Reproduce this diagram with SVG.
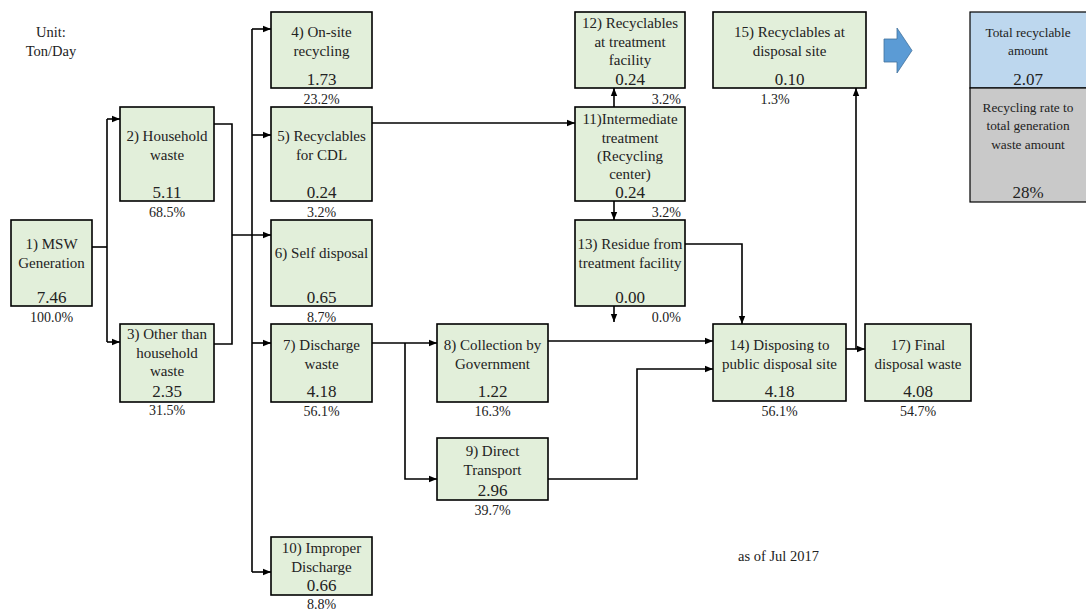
<svg xmlns="http://www.w3.org/2000/svg" width="1086" height="610" viewBox="0 0 1086 610">
  <defs>
    <marker id="arr" viewBox="0 0 8 8" refX="8" refY="4" markerWidth="8" markerHeight="8" markerUnits="userSpaceOnUse" orient="auto">
      <path d="M0,0.8 L8,4 L0,7.2 Z" fill="#000"/>
    </marker>
    <style>
      .box { fill: #E2EFDA; stroke: #000; stroke-width: 1.6; }
      .lbl { font-family: "Liberation Serif", "Times New Roman", serif; font-size: 15px; fill: #222; text-anchor: middle; }
      .val { font-family: "Liberation Serif", "Times New Roman", serif; font-size: 17px; fill: #222; text-anchor: middle; }
      .pct { font-family: "Liberation Serif", "Times New Roman", serif; font-size: 14px; fill: #222; text-anchor: middle; }
      .pctr { font-family: "Liberation Serif", "Times New Roman", serif; font-size: 14px; fill: #222; text-anchor: end; }
      .tbl { font-family: "Liberation Serif", "Times New Roman", serif; font-size: 13.3px; fill: #222; text-anchor: middle; }
      .note { font-family: "Liberation Serif", "Times New Roman", serif; font-size: 14.5px; fill: #222; }
      .conn path { fill: none; stroke: #000; stroke-width: 1.6; }
    </style>
  </defs>
  <rect width="1086" height="610" fill="#fff"/>

  <!-- unit note -->
  <text class="note" x="51" y="37" text-anchor="middle">Unit:</text>
  <text class="note" x="51" y="56" text-anchor="middle">Ton/Day</text>

  <!-- connectors -->
  <g id="connectors" class="conn">
    <path d="M92,247 H107"/>
    <path d="M107,119 V342"/>
    <path d="M107,119 H120" marker-end="url(#arr)"/>
    <path d="M107,342 H120" marker-end="url(#arr)"/>
    <path d="M214,124 H232 V344 H214"/>
    <path d="M232,235 H271" marker-end="url(#arr)"/>
    <path d="M252,29 V572"/>
    <path d="M252,29 H271" marker-end="url(#arr)"/>
    <path d="M252,135 H271" marker-end="url(#arr)"/>
    <path d="M252,343 H271" marker-end="url(#arr)"/>
    <path d="M252,572 H271" marker-end="url(#arr)"/>
    <path d="M372,123 H575" marker-end="url(#arr)"/>
    <path d="M372,343 H437" marker-end="url(#arr)"/>
    <path d="M405,343 V479 H437" marker-end="url(#arr)"/>
    <path d="M548,341 H713" marker-end="url(#arr)"/>
    <path d="M548,479 H637 V369 H713" marker-end="url(#arr)"/>
    <path d="M685,244 H742 V324" marker-end="url(#arr)"/>
    <path d="M614,107 V88" marker-end="url(#arr)"/>
    <path d="M614,201 V220" marker-end="url(#arr)"/>
    <path d="M614,306 V322" marker-end="url(#arr)"/>
    <path d="M846,349 H865" marker-end="url(#arr)"/>
    <path d="M856,349 V88" marker-end="url(#arr)"/>
  </g>

  <g id="n1">
    <rect class="box" x="11" y="220" width="81" height="86"/>
    <text class="lbl" x="51.5" y="249">1) MSW</text>
    <text class="lbl" x="51.5" y="267.5">Generation</text>
    <text class="val" x="51.5" y="303">7.46</text>
    <text class="pct" x="51.5" y="322">100.0%</text>
  </g>
  <g id="n2">
    <rect class="box" x="120" y="107" width="94" height="94"/>
    <text class="lbl" x="167" y="141">2) Household</text>
    <text class="lbl" x="167" y="159.5">waste</text>
    <text class="val" x="167" y="198">5.11</text>
    <text class="pct" x="167" y="216.5">68.5%</text>
  </g>
  <g id="n3">
    <rect class="box" x="120" y="324" width="94" height="78"/>
    <text class="lbl" x="167" y="339">3) Other than</text>
    <text class="lbl" x="167" y="357.5">household</text>
    <text class="lbl" x="167" y="376">waste</text>
    <text class="val" x="167" y="396.5">2.35</text>
    <text class="pct" x="167" y="415">31.5%</text>
  </g>
  <g id="n4">
    <rect class="box" x="271" y="12" width="101" height="76"/>
    <text class="lbl" x="321.5" y="37">4) On-site</text>
    <text class="lbl" x="321.5" y="55.5">recycling</text>
    <text class="val" x="321.5" y="84.5">1.73</text>
    <text class="pct" x="321.5" y="103.5">23.2%</text>
  </g>
  <g id="n5">
    <rect class="box" x="271" y="107" width="101" height="94"/>
    <text class="lbl" x="321.5" y="141">5) Recyclables</text>
    <text class="lbl" x="321.5" y="159.5">for CDL</text>
    <text class="val" x="321.5" y="198">0.24</text>
    <text class="pct" x="321.5" y="216.5">3.2%</text>
  </g>
  <g id="n6">
    <rect class="box" x="271" y="220" width="101" height="86"/>
    <text class="lbl" x="321.5" y="258">6) Self disposal</text>
    <text class="val" x="321.5" y="302.5">0.65</text>
    <text class="pct" x="321.5" y="321.5">8.7%</text>
  </g>
  <g id="n7">
    <rect class="box" x="271" y="324" width="101" height="78"/>
    <text class="lbl" x="321.5" y="350">7) Discharge</text>
    <text class="lbl" x="321.5" y="368.5">waste</text>
    <text class="val" x="321.5" y="397">4.18</text>
    <text class="pct" x="321.5" y="416">56.1%</text>
  </g>
  <g id="n8">
    <rect class="box" x="437" y="324" width="111" height="78"/>
    <text class="lbl" x="492.5" y="350">8) Collection by</text>
    <text class="lbl" x="492.5" y="368.5">Government</text>
    <text class="val" x="492.5" y="397">1.22</text>
    <text class="pct" x="492.5" y="416">16.3%</text>
  </g>
  <g id="n9">
    <rect class="box" x="437" y="438" width="111" height="62"/>
    <text class="lbl" x="492.5" y="456">9) Direct</text>
    <text class="lbl" x="492.5" y="474.5">Transport</text>
    <text class="val" x="492.5" y="496">2.96</text>
    <text class="pct" x="492.5" y="514.5">39.7%</text>
  </g>
  <g id="n10">
    <rect class="box" x="271" y="537" width="101" height="58"/>
    <text class="lbl" x="321.5" y="553">10) Improper</text>
    <text class="lbl" x="321.5" y="571.5">Discharge</text>
    <text class="val" x="321.5" y="590.5">0.66</text>
    <text class="pct" x="321.5" y="609">8.8%</text>
  </g>
  <g id="n11">
    <rect class="box" x="575" y="107" width="110" height="94"/>
    <text class="lbl" x="630" y="124">11)Intermediate</text>
    <text class="lbl" x="630" y="142.5">treatment</text>
    <text class="lbl" x="630" y="161">(Recycling</text>
    <text class="lbl" x="630" y="179">center)</text>
    <text class="val" x="630" y="198">0.24</text>
    <text class="pctr" x="681" y="216.5">3.2%</text>
  </g>
  <g id="n12">
    <rect class="box" x="575" y="12" width="110" height="76"/>
    <text class="lbl" x="630" y="28">12) Recyclables</text>
    <text class="lbl" x="630" y="46.5">at treatment</text>
    <text class="lbl" x="630" y="65">facility</text>
    <text class="val" x="630" y="84.5">0.24</text>
    <text class="pctr" x="681" y="103.5">3.2%</text>
  </g>
  <g id="n13">
    <rect class="box" x="575" y="220" width="110" height="86"/>
    <text class="lbl" x="630" y="249">13) Residue from</text>
    <text class="lbl" x="630" y="267.5">treatment facility</text>
    <text class="val" x="630" y="302.5">0.00</text>
    <text class="pctr" x="681" y="321.5">0.0%</text>
  </g>
  <g id="n14">
    <rect class="box" x="713" y="324" width="133" height="77"/>
    <text class="lbl" x="779.5" y="350">14) Disposing to</text>
    <text class="lbl" x="779.5" y="368.5">public disposal site</text>
    <text class="val" x="779.5" y="397">4.18</text>
    <text class="pct" x="779.5" y="415.5">56.1%</text>
  </g>
  <g id="n15">
    <rect class="box" x="713" y="12" width="153" height="76"/>
    <text class="lbl" x="789.5" y="37">15) Recyclables at</text>
    <text class="lbl" x="789.5" y="55.5">disposal site</text>
    <text class="val" x="789.5" y="84.5">0.10</text>
    <text class="pct" x="775" y="103.5">1.3%</text>
  </g>
  <g id="n17">
    <rect class="box" x="865" y="324" width="106" height="77"/>
    <text class="lbl" x="918" y="350">17) Final</text>
    <text class="lbl" x="918" y="368.5">disposal waste</text>
    <text class="val" x="918" y="397">4.08</text>
    <text class="pct" x="918" y="416">54.7%</text>
  </g>

  <!-- block arrow toward the summary table -->
  <g id="summary-arrow">
    <polygon points="884,39 897,39 897,28 912,50.5 897,73 897,62 884,62" fill="#5B9BD5" stroke="#41719C" stroke-width="0.8"/>
  </g>

  <!-- summary table -->
  <g id="summary">
    <rect x="970" y="12" width="118" height="76" fill="#BDD7EE" stroke="#000" stroke-width="1.2"/>
    <rect x="970" y="88" width="118" height="114" fill="#C9C9C9" stroke="#000" stroke-width="1.2"/>
    <text class="tbl" x="1028" y="36.5">Total recyclable</text>
    <text class="tbl" x="1028" y="54.5">amount</text>
    <text class="val" x="1028" y="84.5">2.07</text>
    <text class="tbl" x="1028" y="111.5">Recycling rate to</text>
    <text class="tbl" x="1028" y="130">total generation</text>
    <text class="tbl" x="1028" y="149">waste amount</text>
    <text class="val" x="1028" y="198">28%</text>
  </g>

  <text class="note" x="738" y="561">as of Jul 2017</text>
</svg>
